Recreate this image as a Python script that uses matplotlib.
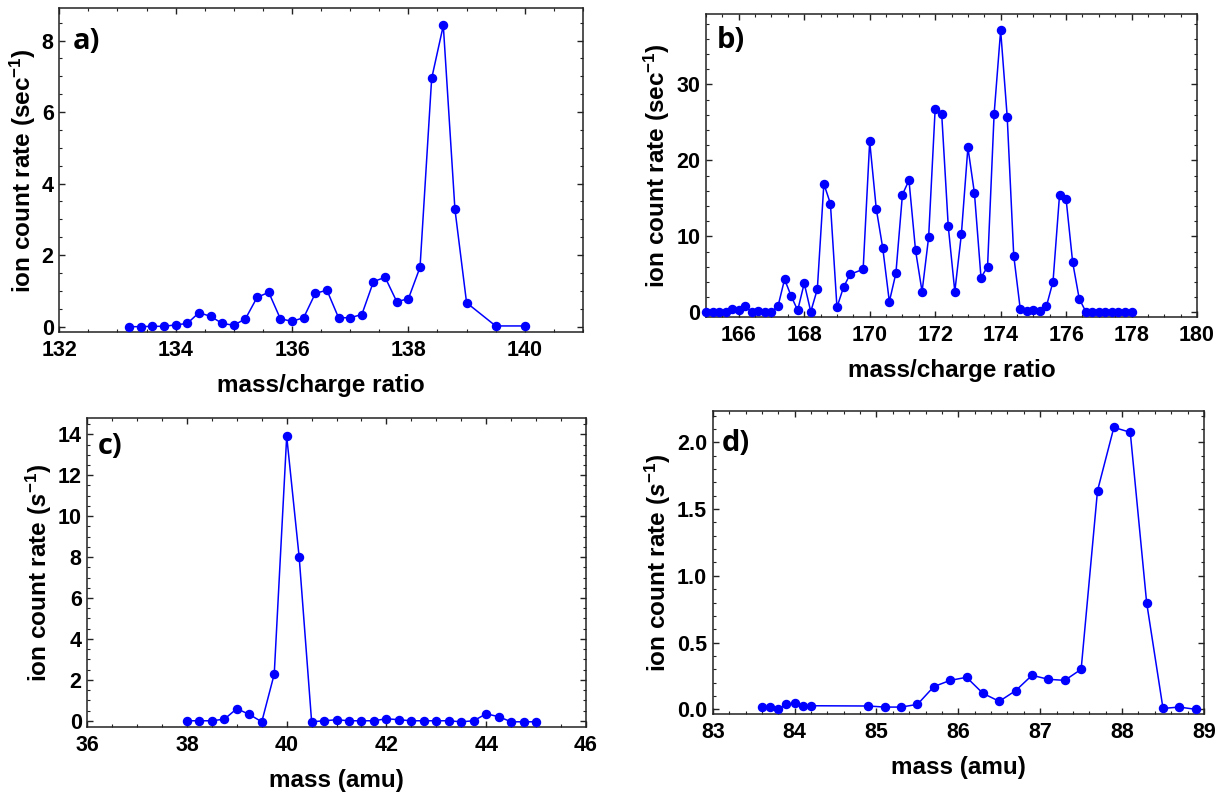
import matplotlib
matplotlib.use("Agg")
import matplotlib.pyplot as plt
from matplotlib.ticker import MultipleLocator

# ---- data -------------------------------------------------------------
a_mass = [133.2, 133.4, 133.6, 133.8, 134.0, 134.2, 134.4, 134.6, 134.8, 135.0,
          135.2, 135.4, 135.6, 135.8, 136.0, 136.2, 136.4, 136.6, 136.8, 137.0,
          137.2, 137.4, 137.6, 137.8, 138.0, 138.2, 138.4, 138.6, 138.8, 139.0,
          139.5, 140.0]
a_rate = [0.0, 0.0, 0.01, 0.01, 0.05, 0.09, 0.39, 0.29, 0.09, 0.04,
          0.22, 0.82, 0.96, 0.22, 0.15, 0.25, 0.93, 1.02, 0.25, 0.25,
          0.34, 1.26, 1.38, 0.70, 0.78, 1.66, 6.94, 8.42, 3.28, 0.67,
          0.02, 0.02]

b_mass = [165.0, 165.2, 165.4, 165.6, 165.8, 166.0, 166.2, 166.4, 166.6, 166.8,
          167.0, 167.2, 167.4, 167.6, 167.8, 168.0, 168.2, 168.4, 168.6, 168.8,
          169.0, 169.2, 169.4, 169.8, 170.0, 170.2, 170.4, 170.6, 170.8, 171.0,
          171.2, 171.4, 171.6, 171.8, 172.0, 172.2, 172.4, 172.6, 172.8, 173.0,
          173.2, 173.4, 173.6, 173.8, 174.0, 174.2, 174.4, 174.6, 174.8, 175.0,
          175.2, 175.4, 175.6, 175.8, 176.0, 176.2, 176.4, 176.6, 176.8, 177.0,
          177.2, 177.4, 177.6, 177.8, 178.0]
b_rate = [0.0, 0.0, 0.0, 0.0, 0.44, 0.26, 0.83, 0.0, 0.18, 0.04,
          0.04, 0.83, 4.34, 2.15, 0.26, 3.82, 0.09, 3.03, 16.9, 14.3,
          0.66, 3.29, 5.0, 5.66, 22.5, 13.64, 8.42, 1.40, 5.13, 15.5,
          17.37, 8.16, 2.72, 9.87, 26.8, 26.05, 11.3, 2.72, 10.26, 21.7,
          15.66, 4.56, 6.0, 26.05, 37.1, 25.75, 7.46, 0.39, 0.13, 0.26,
          0.13, 0.83, 4.04, 15.5, 14.87, 6.58, 1.80, 0.09, 0.0, 0.0,
          0.0, 0.0, 0.0, 0.0, 0.0]

c_mass = [38.0, 38.25, 38.5, 38.75, 39.0, 39.25, 39.5, 39.75, 40.0, 40.25,
          40.5, 40.75, 41.0, 41.25, 41.5, 41.75, 42.0, 42.25, 42.5, 42.75,
          43.0, 43.25, 43.5, 43.75, 44.0, 44.25, 44.5, 44.75, 45.0]
c_rate = [0.0, 0.0, 0.0, 0.08, 0.59, 0.31, -0.05, 2.28, 13.9, 8.0,
          -0.05, 0.0, 0.05, 0.0, 0.0, 0.0, 0.1, 0.05, 0.0, 0.0,
          0.0, 0.0, -0.05, 0.0, 0.34, 0.2, -0.05, -0.05, -0.05]

d_mass = [83.6, 83.7, 83.8, 83.9, 84.0, 84.1, 84.2, 84.9, 85.1, 85.3,
          85.5, 85.7, 85.9, 86.1, 86.3, 86.5, 86.7, 86.9, 87.1, 87.3,
          87.5, 87.7, 87.9, 88.1, 88.3, 88.5, 88.7, 88.9]
d_rate = [0.015, 0.015, 0.0, 0.037, 0.045, 0.025, 0.027, 0.025, 0.017, 0.017,
          0.037, 0.17, 0.217, 0.24, 0.12, 0.06, 0.14, 0.255, 0.225, 0.217,
          0.30, 1.638, 2.112, 2.075, 0.80, 0.007, 0.017, 0.0]

# ---- style ------------------------------------------------------------
plt.rcParams.update({
    "font.family": ["Liberation Sans", "DejaVu Sans"],
    "font.weight": "bold",
    "mathtext.fontset": "custom",
    "mathtext.rm": "Liberation Sans:bold",
    "mathtext.it": "Liberation Sans:bold:italic",
    "mathtext.bf": "Liberation Sans:bold",
    "mathtext.default": "rm",
})

BLUE = (0.0, 0.0, 1.0)

fig = plt.figure(figsize=(12.27, 7.93), dpi=100)

panels = [
    dict(rect=[0.0483, 0.5813, 0.4268, 0.4082], x=a_mass, y=a_rate,
         xlim=(132, 141), ylim=(-0.15, 8.9), xmaj=2, xmin=0.5, ymaj=2, ymin=0.5,
         xlabel="mass/charge ratio", ylabel=r"ion count rate (sec$^{-1}$)",
         tag="a)", tagpos=(0.025, 0.896), yfmt=None),
    dict(rect=[0.5754, 0.6006, 0.4002, 0.3817], x=b_mass, y=b_rate,
         xlim=(165, 180), ylim=(-0.58, 39.25), xmaj=2, xmin=0.5, ymaj=10, ymin=2,
         xlabel="mass/charge ratio", ylabel=r"ion count rate (sec$^{-1}$)",
         tag="b)", tagpos=(0.022, 0.914), yfmt=None),
    dict(rect=[0.0711, 0.0836, 0.4064, 0.3889], x=c_mass, y=c_rate,
         xlim=(36, 46), ylim=(-0.29, 14.78), xmaj=2, xmin=0.5, ymaj=2, ymin=0.5,
         xlabel="mass (amu)", ylabel=r"ion count rate ($\mathit{s}^{-1}$)",
         tag="c)", tagpos=(0.021, 0.907), yfmt=None),
    dict(rect=[0.5809, 0.0996, 0.4003, 0.3825], x=d_mass, y=d_rate,
         xlim=(83, 89), ylim=(-0.035, 2.237), xmaj=1, xmin=0.2, ymaj=0.5, ymin=0.1,
         xlabel="mass (amu)", ylabel=r"ion count rate ($\mathit{s}^{-1}$)",
         tag="d)", tagpos=(0.019, 0.893), yfmt="{:.1f}"),
]

for p in panels:
    ax = fig.add_axes(p["rect"])
    ax.plot(p["x"], p["y"], color=BLUE, lw=1.1, marker="o", ms=5.8,
            mfc=BLUE, mec=BLUE, clip_on=False, zorder=3)
    ax.set_xlim(*p["xlim"])
    ax.set_ylim(*p["ylim"])
    ax.xaxis.set_major_locator(MultipleLocator(p["xmaj"]))
    ax.xaxis.set_minor_locator(MultipleLocator(p["xmin"]))
    ax.yaxis.set_major_locator(MultipleLocator(p["ymaj"]))
    ax.yaxis.set_minor_locator(MultipleLocator(p["ymin"]))
    if p["yfmt"]:
        ax.yaxis.set_major_formatter(lambda v, pos, f=p["yfmt"]: f.format(v))
    else:
        ax.yaxis.set_major_formatter(lambda v, pos: f"{v:g}")
    ax.xaxis.set_major_formatter(lambda v, pos: f"{v:g}")
    ax.tick_params(which="both", direction="in", top=True, right=True,
                   color="#222222", labelsize=15.5)
    ax.tick_params(which="major", length=4, width=1.0)
    ax.tick_params(which="minor", length=2.2, width=0.8)
    ax.tick_params(axis="x", pad=6)
    ax.tick_params(axis="y", pad=4)
    for lab in ax.get_xticklabels() + ax.get_yticklabels():
        lab.set_fontweight("bold")
    for s in ax.spines.values():
        s.set_linewidth(1.1)
        s.set_color("#222222")
    ax.set_xlabel(p["xlabel"], fontsize=17.5, fontweight="bold", labelpad=9)
    ax.set_ylabel(p["ylabel"], fontsize=17.5, fontweight="bold", labelpad=3)
    ax.text(p["tagpos"][0], p["tagpos"][1], p["tag"], transform=ax.transAxes,
            ha="left", va="center", fontsize=21, fontweight="bold",
            family=["Open Sans", "DejaVu Sans"])

fig.savefig("out.png", dpi=100)
